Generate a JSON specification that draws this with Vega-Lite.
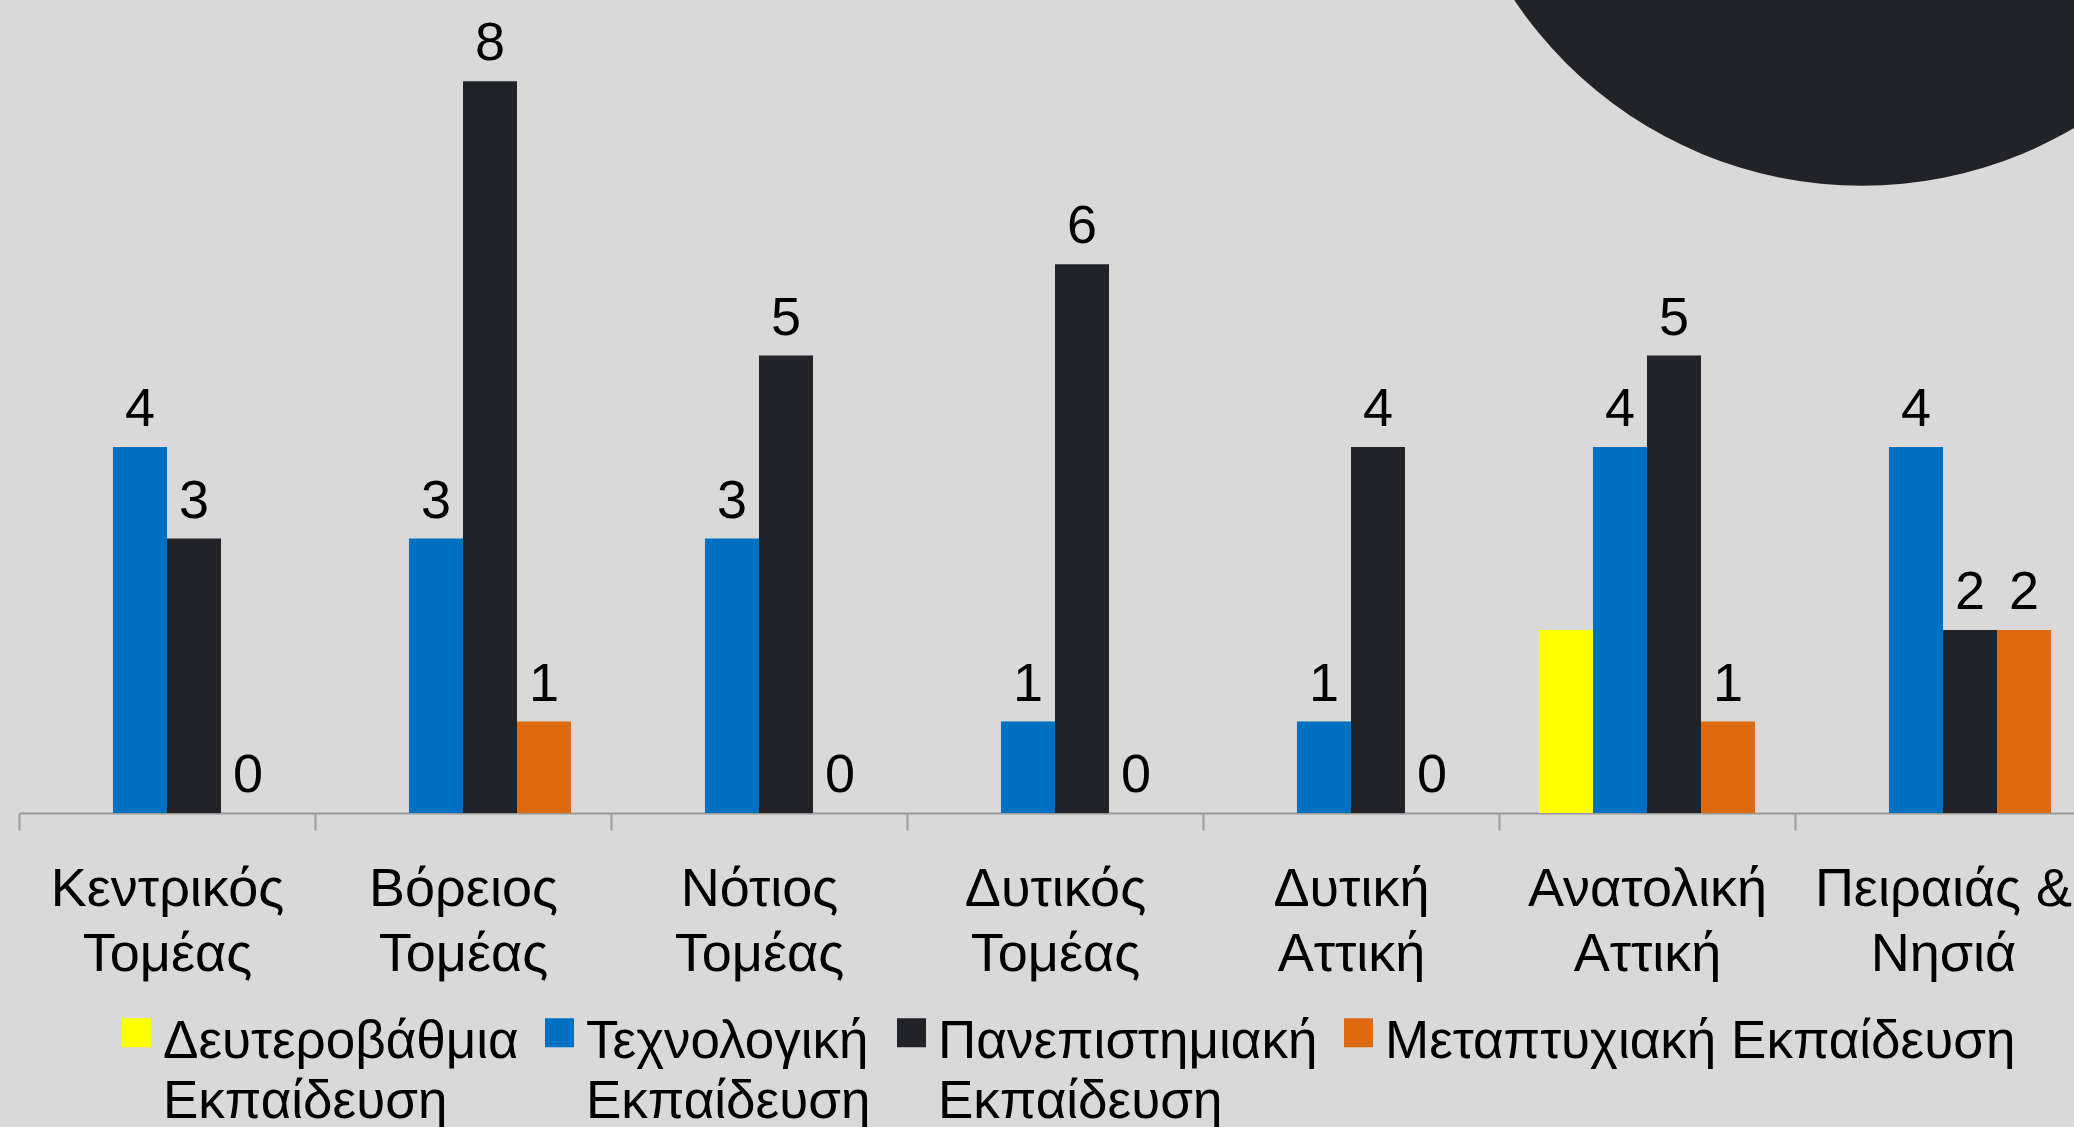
{
  "$schema": "https://vega.github.io/schema/vega-lite/v6.json",
  "width": 2055,
  "height": 805,
  "autosize": {"type": "none"},
  "padding": {"left": 19, "top": 8, "right": 0, "bottom": 314},
  "background": "#d9d9d9",
  "config": {"view": {"stroke": null}, "font": "Liberation Sans"},
  "datasets": {
    "bars": [
      {"region": "Κεντρικός Τομέας", "level": "Τεχνολογική Εκπαίδευση", "value": 4},
      {"region": "Κεντρικός Τομέας", "level": "Πανεπιστημιακή Εκπαίδευση", "value": 3},
      {"region": "Κεντρικός Τομέας", "level": "Μεταπτυχιακή Εκπαίδευση", "value": 0},
      {"region": "Βόρειος Τομέας", "level": "Τεχνολογική Εκπαίδευση", "value": 3},
      {"region": "Βόρειος Τομέας", "level": "Πανεπιστημιακή Εκπαίδευση", "value": 8},
      {"region": "Βόρειος Τομέας", "level": "Μεταπτυχιακή Εκπαίδευση", "value": 1},
      {"region": "Νότιος Τομέας", "level": "Τεχνολογική Εκπαίδευση", "value": 3},
      {"region": "Νότιος Τομέας", "level": "Πανεπιστημιακή Εκπαίδευση", "value": 5},
      {"region": "Νότιος Τομέας", "level": "Μεταπτυχιακή Εκπαίδευση", "value": 0},
      {"region": "Δυτικός Τομέας", "level": "Τεχνολογική Εκπαίδευση", "value": 1},
      {"region": "Δυτικός Τομέας", "level": "Πανεπιστημιακή Εκπαίδευση", "value": 6},
      {"region": "Δυτικός Τομέας", "level": "Μεταπτυχιακή Εκπαίδευση", "value": 0},
      {"region": "Δυτική Αττική", "level": "Τεχνολογική Εκπαίδευση", "value": 1},
      {"region": "Δυτική Αττική", "level": "Πανεπιστημιακή Εκπαίδευση", "value": 4},
      {"region": "Δυτική Αττική", "level": "Μεταπτυχιακή Εκπαίδευση", "value": 0},
      {"region": "Ανατολική Αττική", "level": "Δευτεροβάθμια Εκπαίδευση", "value": 2},
      {"region": "Ανατολική Αττική", "level": "Τεχνολογική Εκπαίδευση", "value": 4},
      {"region": "Ανατολική Αττική", "level": "Πανεπιστημιακή Εκπαίδευση", "value": 5},
      {"region": "Ανατολική Αττική", "level": "Μεταπτυχιακή Εκπαίδευση", "value": 1},
      {"region": "Πειραιάς & Νησιά", "level": "Τεχνολογική Εκπαίδευση", "value": 4},
      {"region": "Πειραιάς & Νησιά", "level": "Πανεπιστημιακή Εκπαίδευση", "value": 2},
      {"region": "Πειραιάς & Νησιά", "level": "Μεταπτυχιακή Εκπαίδευση", "value": 2}
    ],
    "deco": [
      {"region": "Πειραιάς & Νησιά", "level": "Δευτεροβάθμια Εκπαίδευση", "value": 11.43}
    ]
  },
  "encoding": {
    "x": {
      "field": "region",
      "type": "nominal",
      "sort": ["Κεντρικός Τομέας", "Βόρειος Τομέας", "Νότιος Τομέας", "Δυτικός Τομέας", "Δυτική Αττική", "Ανατολική Αττική", "Πειραιάς & Νησιά"],
      "scale": {"range": [0, 2072], "paddingInner": 0, "paddingOuter": 0},
      "axis": {
        "title": null,
        "labelAngle": 0,
        "domainColor": "#9a9a9a",
        "domainWidth": 2,
        "tickColor": "#9a9a9a",
        "tickWidth": 2,
        "tickSize": 17,
        "tickBand": "extent",
        "labelFont": "Liberation Sans",
        "labelFontSize": 54,
        "labelColor": "#000000",
        "labelPadding": 32,
        "labelLineHeight": 65,
        "labelLimit": 1000,
        "labelExpr": "datum.label == 'Πειραιάς & Νησιά' ? ['Πειραιάς &', 'Νησιά'] : split(datum.label, ' ')"
      }
    },
    "xOffset": {
      "field": "level",
      "type": "nominal",
      "sort": ["Δευτεροβάθμια Εκπαίδευση", "Τεχνολογική Εκπαίδευση", "Πανεπιστημιακή Εκπαίδευση", "Μεταπτυχιακή Εκπαίδευση"],
      "scale": {"paddingInner": 0, "paddingOuter": 0.74}
    },
    "y": {
      "field": "value",
      "type": "quantitative",
      "scale": {"domain": [0, 8.8], "nice": false},
      "axis": null
    }
  },
  "layer": [
    {
      "data": {"name": "deco"},
      "mark": {"type": "point", "shape": "circle", "filled": true, "size": 700000, "color": "#222328", "opacity": 1, "strokeWidth": 0}
    },
    {
      "data": {"name": "bars"},
      "mark": {"type": "bar"},
      "encoding": {
        "color": {
          "field": "level",
          "type": "nominal",
          "sort": ["Δευτεροβάθμια Εκπαίδευση", "Τεχνολογική Εκπαίδευση", "Πανεπιστημιακή Εκπαίδευση", "Μεταπτυχιακή Εκπαίδευση"],
          "scale": {
            "domain": ["Δευτεροβάθμια Εκπαίδευση", "Τεχνολογική Εκπαίδευση", "Πανεπιστημιακή Εκπαίδευση", "Μεταπτυχιακή Εκπαίδευση"],
            "range": ["#ffff00", "#0070c0", "#222328", "#dd6a11"]
          },
          "legend": {
            "title": null,
            "orient": "none",
            "direction": "horizontal",
            "columns": 4,
            "legendX": 91,
            "legendY": 998,
            "padding": 0,
            "symbolType": "square",
            "symbolSize": 841,
            "symbolStrokeWidth": 0,
            "symbolOpacity": 1,
            "labelFont": "Liberation Sans",
            "labelFontSize": 53,
            "labelColor": "#000000",
            "labelBaseline": "alphabetic",
            "labelLimit": 2000,
            "labelOffset": 0,
            "columnPadding": 14,
            "labelExpr": "datum.label == 'Μεταπτυχιακή Εκπαίδευση' ? [datum.label, ' '] : split(datum.label, ' ')",
            "encode": {"labels": {"update": {"lineHeight": {"value": 60}, "dy": {"value": 25}}}}
          }
        }
      }
    },
    {
      "data": {"name": "bars"},
      "transform": [{"filter": "datum.level != 'Δευτεροβάθμια Εκπαίδευση'"}],
      "mark": {"type": "text", "baseline": "alphabetic", "dy": -21, "fontSize": 54, "font": "Liberation Sans", "color": "#000000"},
      "encoding": {"text": {"field": "value", "type": "quantitative"}}
    }
  ]
}
